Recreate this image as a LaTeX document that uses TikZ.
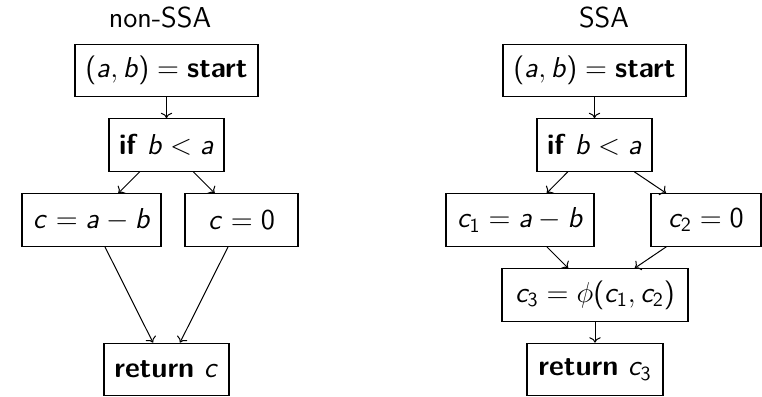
\documentclass[tikz,border=0pt]{standalone}
\usetikzlibrary{arrows.meta}
\renewcommand{\familydefault}{\sfdefault}
% sans-serif math: upright sans for operators/digits, slanted sans letters
\DeclareSymbolFont{sfletters}{OT1}{cmss}{m}{sl}
\SetSymbolFont{operators}{normal}{OT1}{cmss}{m}{n}
\DeclareMathSymbol{a}{\mathalpha}{sfletters}{`a}
\DeclareMathSymbol{b}{\mathalpha}{sfletters}{`b}
\DeclareMathSymbol{c}{\mathalpha}{sfletters}{`c}
\begin{document}
\begin{tikzpicture}[x=0.5pt,y=-0.5pt,
  blk/.style={draw, line width=0.6pt, font=\Large, inner sep=0pt,
              minimum height=26.25pt},
  ttl/.style={anchor=base, font=\Large},
  arr/.style={->, line width=0.5pt}]
\useasboundingbox (0,0) rectangle (762,397);

% non-SSA form
\node[ttl] (t1) at (160,27) {non-SSA};
\node[blk, minimum width=91.5pt] (s1) at (166.5,70.5) {$(a,b) = \textbf{start}$};
\node[blk, minimum width=57.5pt] (if1) at (166.5,145) {\textbf{if} $b < a$};
\node[blk, minimum width=69.5pt] (l1) at (91.5,220) {$c = a - b$};
\node[blk, minimum width=56.5pt] (r1) at (241.5,220) {$c = 0$};
\node[blk, minimum width=62.5pt] (ret1) at (166.5,369.5) {\textbf{return} $c$};

\draw[arr] (s1) -- (if1);
\draw[arr] (if1) -- (l1);
\draw[arr] (if1) -- (r1);
\draw[arr] (l1) -- (ret1);
\draw[arr] (r1) -- (ret1);

% SSA form
\node[ttl] (t2) at (604,27) {SSA};
\node[blk, minimum width=91.5pt] (s2) at (594.5,70.5) {$(a,b) = \textbf{start}$};
\node[blk, minimum width=57.5pt] (if2) at (594.5,145) {\textbf{if} $b < a$};
\node[blk, minimum width=74pt] (l2) at (520,220) {$c_1 = a - b$};
\node[blk, minimum width=55pt] (r2) at (706,220) {$c_2 = 0$};
\node[blk, minimum width=93pt] (phi) at (595,295) {$c_3 = \phi(c_1,c_2)$};
\node[blk, minimum width=68pt] (ret2) at (595,369.5) {\textbf{return} $c_3$};

\draw[arr] (s2) -- (if2);
\draw[arr] (if2) -- (l2);
\draw[arr] (if2) -- (r2);
\draw[arr] (l2) -- (phi);
\draw[arr] (r2) -- (phi);
\draw[arr] (phi) -- (ret2);
\end{tikzpicture}
\end{document}
